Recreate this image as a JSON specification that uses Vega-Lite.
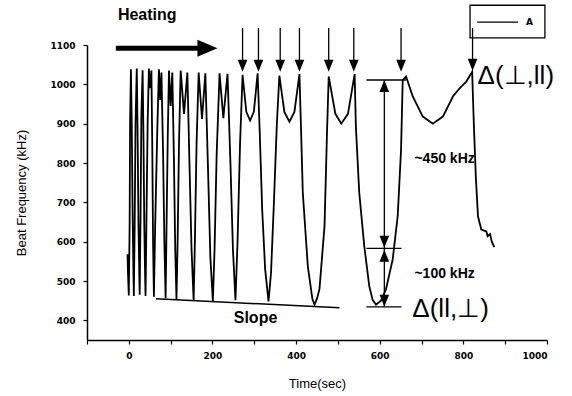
{
  "$schema": "https://vega.github.io/schema/vega-lite/v6.json",
  "width": 460,
  "height": 295,
  "autosize": {"type": "none"},
  "padding": {"left": 87, "top": 45, "right": 25, "bottom": 56},
  "background": "white",
  "config": {
    "view": {"stroke": null},
    "font": "Liberation Sans",
    "axis": {
      "grid": false,
      "domainColor": "black",
      "domainWidth": 1.5,
      "tickColor": "black",
      "tickWidth": 1.2,
      "tickSize": 4,
      "labelFont": "DejaVu Sans",
      "labelFontWeight": "bold",
      "labelFontSize": 9,
      "labelColor": "black",
      "labelOverlap": false,
      "titleFont": "Liberation Sans",
      "titleFontWeight": "normal",
      "titleFontSize": 13,
      "titleColor": "black"
    }
  },
  "datasets": {
    "curve": [
      {"t": -3, "f": 568}, {"t": -2, "f": 520}, {"t": 0, "f": 463},
      {"t": 2, "f": 650}, {"t": 3, "f": 900}, {"t": 5, "f": 1038}, {"t": 7, "f": 900}, {"t": 9, "f": 680}, {"t": 11, "f": 520}, {"t": 12, "f": 462},
      {"t": 14, "f": 640}, {"t": 16, "f": 900}, {"t": 19, "f": 1040}, {"t": 21, "f": 880}, {"t": 23, "f": 650}, {"t": 25, "f": 520}, {"t": 26, "f": 465},
      {"t": 28, "f": 660}, {"t": 30, "f": 920}, {"t": 33, "f": 1036}, {"t": 35, "f": 870}, {"t": 37, "f": 640}, {"t": 39, "f": 510}, {"t": 40, "f": 462},
      {"t": 42, "f": 640}, {"t": 45, "f": 900}, {"t": 48, "f": 1040}, {"t": 51, "f": 990}, {"t": 54, "f": 1035}, {"t": 56, "f": 850}, {"t": 58, "f": 600}, {"t": 60, "f": 460},
      {"t": 63, "f": 640}, {"t": 68, "f": 880}, {"t": 72, "f": 1038}, {"t": 75, "f": 960}, {"t": 78, "f": 1030}, {"t": 82, "f": 820}, {"t": 85, "f": 600}, {"t": 88, "f": 456},
      {"t": 90, "f": 620}, {"t": 93, "f": 860}, {"t": 96, "f": 1035}, {"t": 100, "f": 945}, {"t": 104, "f": 1030}, {"t": 108, "f": 800}, {"t": 111, "f": 580}, {"t": 114, "f": 452},
      {"t": 117, "f": 620}, {"t": 120, "f": 850}, {"t": 124, "f": 1035}, {"t": 132, "f": 925}, {"t": 140, "f": 1030}, {"t": 145, "f": 800}, {"t": 150, "f": 580}, {"t": 155, "f": 450},
      {"t": 158, "f": 600}, {"t": 162, "f": 850}, {"t": 167, "f": 1030}, {"t": 175, "f": 912}, {"t": 183, "f": 1028}, {"t": 189, "f": 800}, {"t": 195, "f": 560}, {"t": 201, "f": 449},
      {"t": 205, "f": 580}, {"t": 210, "f": 820}, {"t": 217, "f": 1028}, {"t": 226, "f": 914}, {"t": 236, "f": 1027}, {"t": 243, "f": 800}, {"t": 249, "f": 580}, {"t": 255, "f": 451},
      {"t": 260, "f": 600}, {"t": 266, "f": 850}, {"t": 272, "f": 1024}, {"t": 281, "f": 930}, {"t": 290, "f": 908}, {"t": 299, "f": 930}, {"t": 308, "f": 1028}, {"t": 313, "f": 880}, {"t": 319, "f": 680}, {"t": 326, "f": 530}, {"t": 334, "f": 448},
      {"t": 340, "f": 520}, {"t": 347, "f": 700}, {"t": 354, "f": 900}, {"t": 360, "f": 1022}, {"t": 372, "f": 930}, {"t": 384, "f": 905}, {"t": 396, "f": 930}, {"t": 408, "f": 1026},
      {"t": 412, "f": 880}, {"t": 416, "f": 725}, {"t": 428, "f": 538}, {"t": 439, "f": 454}, {"t": 444, "f": 440}, {"t": 450, "f": 455}, {"t": 456, "f": 480}, {"t": 468, "f": 640}, {"t": 474, "f": 880}, {"t": 478, "f": 1020},
      {"t": 494, "f": 925}, {"t": 508, "f": 900}, {"t": 524, "f": 925}, {"t": 540, "f": 1026},
      {"t": 543, "f": 892}, {"t": 551, "f": 725}, {"t": 563, "f": 589}, {"t": 575, "f": 487}, {"t": 583, "f": 452}, {"t": 591, "f": 440}, {"t": 603, "f": 450}, {"t": 615, "f": 479}, {"t": 631, "f": 555}, {"t": 643, "f": 665}, {"t": 651, "f": 834}, {"t": 655, "f": 1011}, {"t": 663, "f": 1020},
      {"t": 679, "f": 969}, {"t": 703, "f": 918}, {"t": 727, "f": 900}, {"t": 751, "f": 918}, {"t": 775, "f": 969}, {"t": 791, "f": 990}, {"t": 807, "f": 1007}, {"t": 821, "f": 1032},
      {"t": 825, "f": 900}, {"t": 830, "f": 760}, {"t": 835, "f": 664}, {"t": 843, "f": 631}, {"t": 855, "f": 626}, {"t": 858, "f": 614}, {"t": 864, "f": 619}, {"t": 868, "f": 600}, {"t": 874, "f": 586}
    ],
    "arrows": [
      {"t": 272, "top": 1143, "head": 1047}, {"t": 310, "top": 1143, "head": 1047},
      {"t": 362, "top": 1143, "head": 1047}, {"t": 408, "top": 1143, "head": 1047},
      {"t": 478, "top": 1143, "head": 1047}, {"t": 538, "top": 1143, "head": 1047},
      {"t": 651, "top": 1143, "head": 1047}, {"t": 822, "top": 1143, "head": 1050}
    ],
    "levels": [
      {"t": 568, "t2": 663, "f": 1011},
      {"t": 568, "t2": 652, "f": 583},
      {"t": 568, "t2": 652, "f": 434}
    ],
    "spans": [
      {"t": 611, "f": 1011, "f2": 583},
      {"t": 611, "f": 583, "f2": 434}
    ],
    "upheads": [{"t": 611, "f": 996}, {"t": 611, "f": 564}],
    "downheads": [{"t": 611, "f": 600}, {"t": 611, "f": 450}]
  },
  "layer": [
    {
      "data": {"name": "curve"},
      "mark": {"type": "line", "strokeWidth": 1.8, "color": "black", "interpolate": "linear"},
      "encoding": {
        "x": {
          "field": "t", "type": "quantitative",
          "scale": {"domain": [-100, 1000], "nice": false, "zero": false},
          "axis": {
            "title": "Time(sec)",
            "values": [-100, 0, 100, 200, 300, 400, 500, 600, 700, 800, 900, 1000],
            "format": "d",
            "labelExpr": "datum.value % 200 === 0 ? datum.label : ''",
            "labelPadding": 7,
            "titlePadding": 17
          }
        },
        "y": {
          "field": "f", "type": "quantitative",
          "scale": {"domain": [350, 1100], "nice": false, "zero": false},
          "axis": {
            "title": "Beat Frequency (kHz)",
            "values": [400, 450, 500, 550, 600, 650, 700, 750, 800, 850, 900, 950, 1000, 1050, 1100],
            "format": "d",
            "labelExpr": "datum.value % 100 === 0 ? datum.label : ''",
            "labelPadding": 8,
            "titlePadding": 21
          }
        }
      }
    },
    {
      "data": {"values": [{"t": 816, "t2": 995, "f": 1201, "f2": 1118}]},
      "mark": {"type": "rect", "fill": "white", "stroke": "black", "strokeWidth": 1.3},
      "encoding": {
        "x": {"field": "t", "type": "quantitative"},
        "x2": {"field": "t2"},
        "y": {"field": "f", "type": "quantitative"},
        "y2": {"field": "f2"}
      }
    },
    {
      "data": {"values": [{"t": 833, "t2": 931, "f": 1158}]},
      "mark": {"type": "rule", "color": "black", "strokeWidth": 1.2},
      "encoding": {
        "x": {"field": "t", "type": "quantitative"},
        "x2": {"field": "t2"},
        "y": {"field": "f", "type": "quantitative"}
      }
    },
    {
      "data": {"values": [{"t": 950, "f": 1158, "label": "A"}]},
      "mark": {"type": "text", "font": "DejaVu Sans", "fontWeight": "bold", "fontSize": 9, "align": "left", "baseline": "middle", "color": "black"},
      "encoding": {
        "x": {"field": "t", "type": "quantitative"},
        "y": {"field": "f", "type": "quantitative"},
        "text": {"field": "label"}
      }
    },
    {
      "data": {"values": [{"t": 65, "f": 455, "t2": 504, "f2": 432}]},
      "mark": {"type": "rule", "color": "black", "strokeWidth": 1.5},
      "encoding": {
        "x": {"field": "t", "type": "quantitative"},
        "y": {"field": "f", "type": "quantitative"},
        "x2": {"field": "t2"},
        "y2": {"field": "f2"}
      }
    },
    {
      "data": {"name": "arrows"},
      "mark": {"type": "rule", "color": "black", "strokeWidth": 1.3},
      "encoding": {
        "x": {"field": "t", "type": "quantitative"},
        "y": {"field": "top", "type": "quantitative"},
        "y2": {"field": "head"}
      }
    },
    {
      "data": {"name": "arrows"},
      "mark": {"type": "point", "shape": "M-0.8,-1L0.8,-1L0,1Z", "filled": true, "color": "black", "opacity": 1, "size": 144},
      "encoding": {
        "x": {"field": "t", "type": "quantitative"},
        "y": {"field": "head", "type": "quantitative"}
      }
    },
    {
      "data": {"name": "levels"},
      "mark": {"type": "rule", "color": "black", "strokeWidth": 1.3},
      "encoding": {
        "x": {"field": "t", "type": "quantitative"},
        "x2": {"field": "t2"},
        "y": {"field": "f", "type": "quantitative"}
      }
    },
    {
      "data": {"name": "spans"},
      "mark": {"type": "rule", "color": "black", "strokeWidth": 1.3},
      "encoding": {
        "x": {"field": "t", "type": "quantitative"},
        "y": {"field": "f", "type": "quantitative"},
        "y2": {"field": "f2"}
      }
    },
    {
      "data": {"name": "upheads"},
      "mark": {"type": "point", "shape": "M-0.8,1L0.8,1L0,-1Z", "filled": true, "color": "black", "opacity": 1, "size": 144},
      "encoding": {
        "x": {"field": "t", "type": "quantitative"},
        "y": {"field": "f", "type": "quantitative"}
      }
    },
    {
      "data": {"name": "downheads"},
      "mark": {"type": "point", "shape": "M-0.8,-1L0.8,-1L0,1Z", "filled": true, "color": "black", "opacity": 1, "size": 144},
      "encoding": {
        "x": {"field": "t", "type": "quantitative"},
        "y": {"field": "f", "type": "quantitative"}
      }
    },
    {
      "data": {"values": [{"t": -31, "t2": 180, "f": 1092}]},
      "mark": {"type": "rule", "color": "black", "strokeWidth": 5},
      "encoding": {
        "x": {"field": "t", "type": "quantitative"},
        "x2": {"field": "t2"},
        "y": {"field": "f", "type": "quantitative"}
      }
    },
    {
      "data": {"values": [{"t": 188, "f": 1092}]},
      "mark": {"type": "point", "shape": "M-1,-0.85L1,0L-1,0.85Z", "filled": true, "color": "black", "opacity": 1, "size": 400},
      "encoding": {
        "x": {"field": "t", "type": "quantitative"},
        "y": {"field": "f", "type": "quantitative"}
      }
    },
    {
      "data": {"values": [
        {"t": 44, "f": 1176, "label": "Heating"},
        {"t": 303, "f": 406, "label": "Slope"}
      ]},
      "mark": {"type": "text", "font": "Liberation Sans", "fontWeight": "bold", "fontSize": 16, "align": "center", "baseline": "middle", "color": "black"},
      "encoding": {
        "x": {"field": "t", "type": "quantitative"},
        "y": {"field": "f", "type": "quantitative"},
        "text": {"field": "label"}
      }
    },
    {
      "data": {"values": [
        {"t": 683, "f": 809, "label": "~450 kHz"},
        {"t": 683, "f": 517, "label": "~100 kHz"}
      ]},
      "mark": {"type": "text", "font": "Liberation Sans", "fontWeight": "bold", "fontSize": 14, "align": "left", "baseline": "middle", "color": "black"},
      "encoding": {
        "x": {"field": "t", "type": "quantitative"},
        "y": {"field": "f", "type": "quantitative"},
        "text": {"field": "label"}
      }
    },
    {
      "data": {"values": [
        {"t": 834, "f": 1021, "label": "Δ(⊥,ll)"},
        {"t": 678, "f": 429, "label": "Δ(ll,⊥)"}
      ]},
      "mark": {"type": "text", "font": "Liberation Sans", "fontWeight": "normal", "fontSize": 26, "align": "left", "baseline": "middle", "color": "black"},
      "encoding": {
        "x": {"field": "t", "type": "quantitative"},
        "y": {"field": "f", "type": "quantitative"},
        "text": {"field": "label"}
      }
    }
  ]
}
